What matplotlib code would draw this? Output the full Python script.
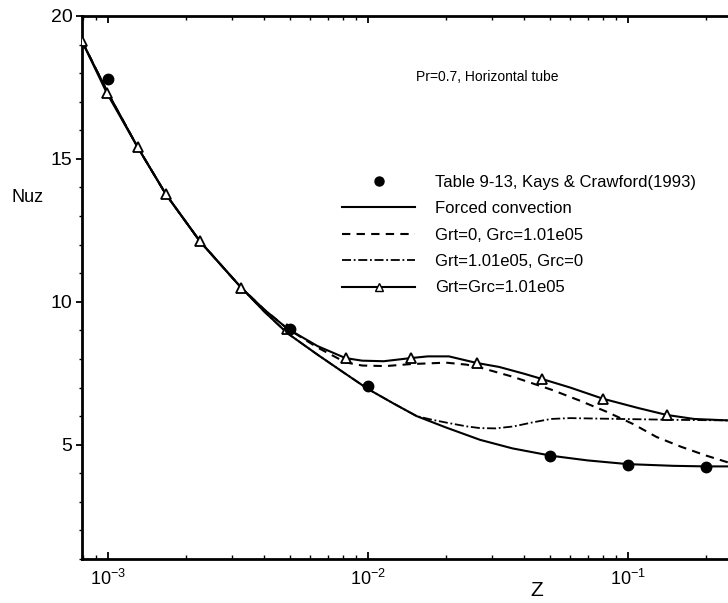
import matplotlib
matplotlib.use("Agg")
import matplotlib.pyplot as plt
from matplotlib.ticker import LogLocator, FixedLocator, MultipleLocator
from matplotlib.lines import Line2D

FONT = ['Liberation Sans', 'DejaVu Sans']
plt.rcParams['font.family'] = FONT
plt.rcParams['mathtext.fontset'] = 'custom'
plt.rcParams['mathtext.rm'] = 'Liberation Sans'
plt.rcParams['mathtext.it'] = 'Liberation Sans'

# ---- data ----
z_table = [0.001, 0.005, 0.01, 0.05, 0.1, 0.2]
nu_table = [17.8, 9.05, 7.06, 4.61, 4.29, 4.22]

z_forced = [7.94e-4, 0.001, 0.0013, 0.00167, 0.00226, 0.00325, 0.004, 0.0049,
            0.0064, 0.0082, 0.01, 0.0125, 0.0154, 0.02, 0.027, 0.036, 0.051,
            0.07, 0.1, 0.15, 0.2, 0.243]
nu_forced = [19.12, 17.30, 15.41, 13.76, 12.11, 10.50, 9.65, 8.90,
             8.15, 7.48, 6.95, 6.45, 6.00, 5.60, 5.17, 4.87, 4.61,
             4.45, 4.32, 4.26, 4.24, 4.24]

z_grc = [7.94e-4, 0.001, 0.0013, 0.00167, 0.00226, 0.00325, 0.004, 0.0049,
         0.0064, 0.0082, 0.0095, 0.0117, 0.0146, 0.02, 0.024, 0.027, 0.036,
         0.051, 0.065, 0.083, 0.105, 0.129, 0.16, 0.2, 0.243]
nu_grc = [19.12, 17.30, 15.41, 13.76, 12.11, 10.50, 9.72, 9.06,
          8.40, 7.88, 7.77, 7.75, 7.82, 7.87, 7.80, 7.70, 7.38,
          6.92, 6.55, 6.15, 5.72, 5.27, 4.93, 4.62, 4.38]

z_grt = [7.94e-4, 0.001, 0.0013, 0.00167, 0.00226, 0.00325, 0.004, 0.0049,
         0.0064, 0.0082, 0.01, 0.0125, 0.0154, 0.0175, 0.0201, 0.024, 0.027,
         0.031, 0.0364, 0.043, 0.0506, 0.06, 0.08, 0.15, 0.243]
nu_grt = [19.12, 17.30, 15.41, 13.76, 12.11, 10.50, 9.65, 8.90,
          8.15, 7.48, 6.95, 6.45, 6.00, 5.88, 5.77, 5.64, 5.58,
          5.57, 5.64, 5.78, 5.90, 5.93, 5.91, 5.87, 5.85]

z_both = [7.94e-4, 0.00099, 0.0013, 0.00167, 0.00226, 0.00325, 0.004, 0.0049,
          0.0064, 0.0082, 0.0095, 0.0115, 0.0146, 0.017, 0.0205, 0.0262,
          0.032, 0.04, 0.0467, 0.06, 0.0801, 0.11, 0.1413, 0.18, 0.243]
nu_both = [19.12, 17.30, 15.41, 13.76, 12.11, 10.50, 9.72, 9.06,
           8.45, 8.03, 7.94, 7.92, 8.03, 8.09, 8.09, 7.86,
           7.72, 7.48, 7.30, 7.00, 6.61, 6.28, 6.04, 5.90, 5.85]
both_marker_idx = [0, 1, 2, 3, 4, 5, 7, 9, 12, 15, 18, 20, 22]

labels = ['Table 9-13, Kays & Crawford(1993)', 'Forced convection',
          'Grt=0, Grc=1.01e05', 'Grt=1.01e05, Grc=0', 'Grt=Grc=1.01e05']
x_ticks = [1e-3, 1e-2, 1e-1]
x_ticklabels = [r'$10^{-3}$', r'$10^{-2}$', r'$10^{-1}$']
y_ticks = [5, 10, 15, 20]

# ---- figure ----
W, H = 728, 603
fig = plt.figure(figsize=(W / 100, H / 100), dpi=100)
L, R, T, B = 82, 728, 16, 559
ax = fig.add_axes([L / W, 1 - B / H, (R - L) / W, (B - T) / H])

lw = 1.5
dashdot = (0, (5, 1.5, 1, 1.5))
ax.plot(z_forced, nu_forced, color='black', lw=lw, zorder=2)
ax.plot(z_grc, nu_grc, color='black', lw=lw, ls=(0, (4, 3)), zorder=2)
ax.plot(z_grt, nu_grt, color='black', lw=1.3, ls=dashdot, zorder=2)
ax.plot(z_both, nu_both, color='black', lw=lw, marker='^', markersize=6.5,
        markerfacecolor='white', markeredgecolor='black', markeredgewidth=1.3,
        markevery=both_marker_idx, zorder=3)
ax.plot(z_table, nu_table, ls='none', marker='o', markersize=7.5,
        color='black', zorder=4)

ax.set_xscale('log')
ax.set_xlim(7.94e-4, 0.243)
ax.set_ylim(1.0, 20.0)

ax.xaxis.set_major_locator(FixedLocator(x_ticks))
ax.set_xticklabels(x_ticklabels)
ax.xaxis.set_minor_locator(LogLocator(base=10, subs=range(2, 10)))
ax.yaxis.set_major_locator(FixedLocator(y_ticks))
ax.yaxis.set_minor_locator(MultipleLocator(1))

ax.tick_params(axis='x', which='both', direction='in', top=True, bottom=True,
               labelsize=13, pad=7)
ax.tick_params(axis='x', which='major', length=5, width=1.3)
ax.tick_params(axis='x', which='minor', length=3, width=1.0)
ax.tick_params(axis='y', which='major', direction='out', length=4, width=1.3,
               labelsize=14, pad=3, right=False)
ax.tick_params(axis='y', which='minor', direction='out', length=2, width=1.0,
               right=False)

for s in ['left', 'bottom', 'top']:
    ax.spines[s].set_linewidth(2.0)
ax.spines['right'].set_visible(False)

ax.text(0.517, 0.888, 'Pr=0.7, Horizontal tube', transform=ax.transAxes,
        ha='left', va='center', fontsize=10)

handles = [
    Line2D([], [], ls='none', marker='o', markersize=6.5, color='black'),
    Line2D([], [], color='black', lw=lw),
    Line2D([], [], color='black', lw=lw, ls=(0, (4, 3))),
    Line2D([], [], color='black', lw=1.3, ls=dashdot),
    Line2D([], [], color='black', lw=lw, marker='^', markersize=5.5,
           markerfacecolor='white', markeredgecolor='black'),
]
leg = ax.legend(handles, labels, loc='upper left',
                bbox_to_anchor=((342 - L) / (R - L), (B - 175) / (B - T)),
                frameon=False, fontsize=12, handlelength=4.4,
                handletextpad=1.2, labelspacing=0.68, borderpad=0,
                borderaxespad=0, numpoints=1)

fig.text(28 / W, 1 - 197 / H, 'Nuz', ha='center', va='center', fontsize=13)
fig.text(537 / W, 1 - 590 / H, 'Z', ha='center', va='center', fontsize=15)

fig.savefig('out.png', dpi=100)
